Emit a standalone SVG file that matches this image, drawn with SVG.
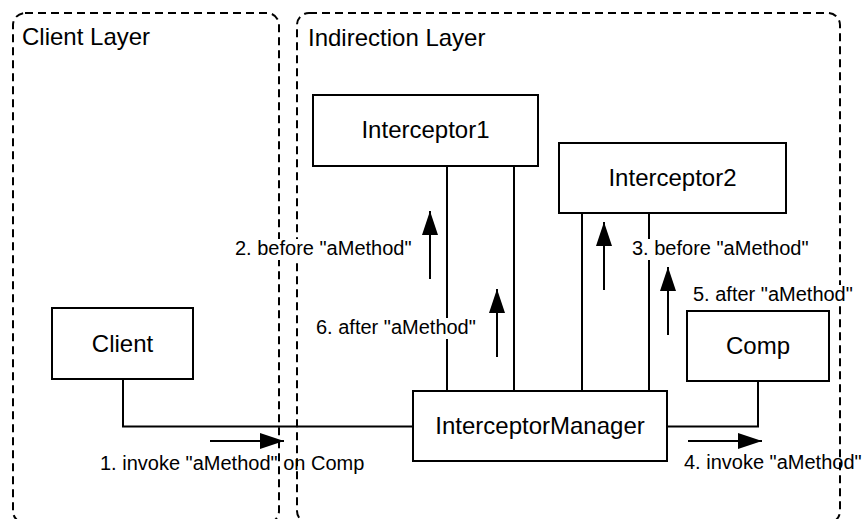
<svg xmlns="http://www.w3.org/2000/svg" width="862" height="519" viewBox="0 0 862 519">
<style>
.layer{fill:none;stroke:#000;stroke-width:2;stroke-dasharray:8 5}
.box{fill:#fff;stroke:#000;stroke-width:2}
.conn{fill:none;stroke:#000;stroke-width:2}
.flow{fill:none;stroke:#000;stroke-width:2;marker-end:url(#ah)}
.t{font-family:"Liberation Sans",Arial,sans-serif;fill:#000}
.title{font-size:24px}
.node{font-size:24px;text-anchor:middle}
.lbl{font-size:20px}
.bg{fill:#fff}
</style>
<defs>
<marker id="ah" markerUnits="userSpaceOnUse" markerWidth="26" markerHeight="18" refX="24" refY="8" orient="auto">
<path d="M0,0 L24,8 L0,16 Z" fill="#000"/>
</marker>
</defs>
<g id="client-layer">
<rect class="layer" x="13" y="13" width="266" height="510" rx="12"/>
<text class="t title" x="22" y="45">Client Layer</text>
</g>
<g id="indirection-layer">
<rect class="layer" x="297" y="13" width="543" height="510" rx="12"/>
<text class="t title" x="308" y="46">Indirection Layer</text>
</g>
<g id="connectors">
<polyline class="conn" points="123,379 123,426.5 413,426.5"/>
<polyline class="conn" points="667,426.5 758,426.5 758,381"/>
<line class="conn" x1="447" y1="166" x2="447" y2="391"/>
<line class="conn" x1="514" y1="166" x2="514" y2="391"/>
<line class="conn" x1="582" y1="213" x2="582" y2="391"/>
<line class="conn" x1="649" y1="213" x2="649" y2="391"/>
<line class="flow" x1="210" y1="441" x2="284" y2="441"/>
<line class="flow" x1="430" y1="279" x2="430" y2="211"/>
<line class="flow" x1="604" y1="290" x2="604" y2="222"/>
<line class="flow" x1="688" y1="441" x2="762" y2="441"/>
<line class="flow" x1="668" y1="335" x2="668" y2="267"/>
<line class="flow" x1="497" y1="357" x2="497" y2="289"/>
</g>
<g id="labels">
<text class="t lbl" x="100" y="470">1. invoke "aMethod" on Comp</text>
<rect class="bg" x="234" y="239" width="178" height="21"/>
<text class="t lbl" x="235" y="255">2. before "aMethod"</text>
<rect class="bg" x="631" y="239" width="177" height="21"/>
<text class="t lbl" x="632" y="255">3. before "aMethod"</text>
<text class="t lbl" x="684" y="469">4. invoke "aMethod"</text>
<rect class="bg" x="692" y="285" width="161" height="21"/>
<text class="t lbl" x="693" y="301">5. after "aMethod"</text>
<rect class="bg" x="315" y="318" width="162" height="21"/>
<text class="t lbl" x="316" y="334">6. after "aMethod"</text>
</g>
<g id="interceptor1">
<rect class="box" x="313" y="95" width="225" height="71"/>
<text class="t node" x="425.5" y="138">Interceptor1</text>
</g>
<g id="interceptor2">
<rect class="box" x="559" y="143" width="227" height="70"/>
<text class="t node" x="672.5" y="186">Interceptor2</text>
</g>
<g id="client">
<rect class="box" x="52" y="308" width="141" height="71"/>
<text class="t node" x="122.5" y="352">Client</text>
</g>
<g id="comp">
<rect class="box" x="687" y="311" width="142" height="70"/>
<text class="t node" x="758" y="354">Comp</text>
</g>
<g id="interceptor-manager">
<rect class="box" x="413" y="391" width="254" height="70"/>
<text class="t node" x="540" y="434">InterceptorManager</text>
</g>
</svg>
